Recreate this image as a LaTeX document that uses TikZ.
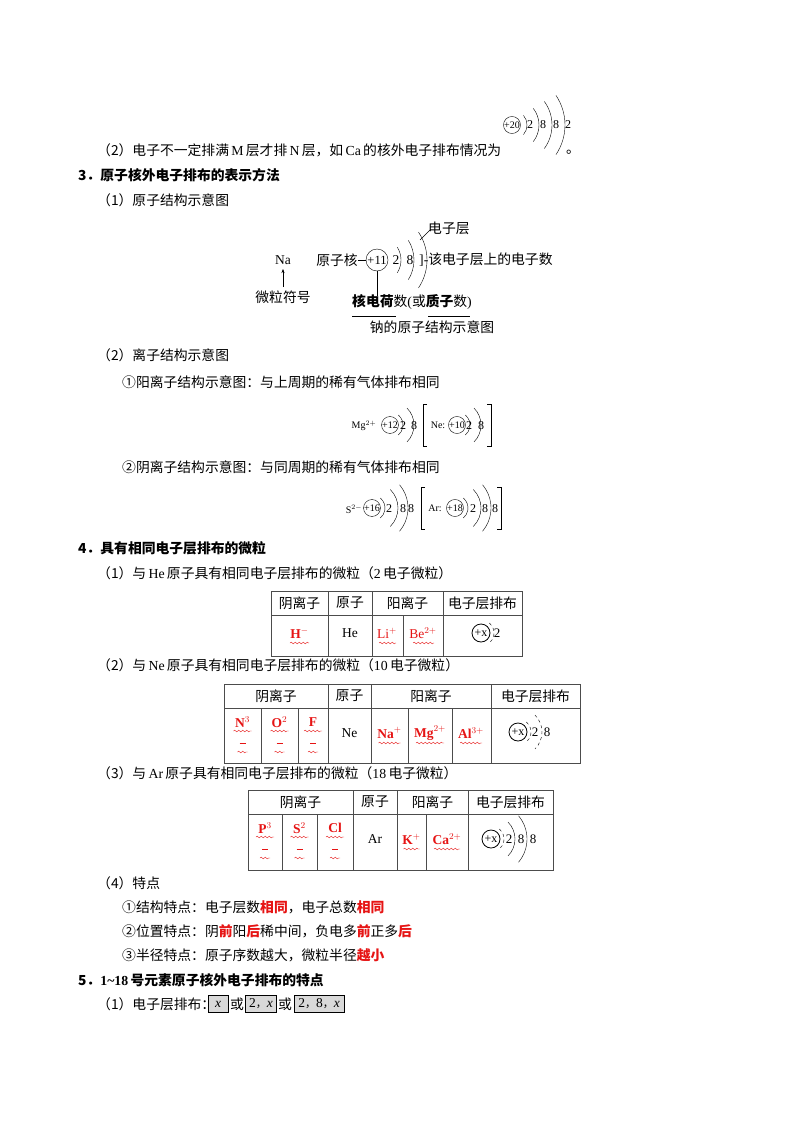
\documentclass[tikz,border=0pt]{standalone}
\usepackage{fontspec}
\setmainfont{Noto Sans CJK SC}
\newfontfamily\lt{Liberation Serif}
\usetikzlibrary{decorations.pathmorphing,arrows.meta}
\definecolor{rd}{RGB}{230,20,20}
\newcommand\shl[5]{\draw[#5] (#1,#2) ++(-#4:#3) arc[start angle=-#4,end angle=#4,radius=#3];}
\newcommand\rb[1]{\textcolor{rd}{\bfseries #1}}
\newcommand\la[1]{{\lt #1}}
\newcommand\zc{{\normalfont\fontsize{11}{12}\selectfont ，}}
\begin{document}
\begin{tikzpicture}[x=1pt,y=-1pt,
  t/.style={anchor=west,inner sep=0pt,font=\fontsize{13.8}{15}\selectfont},
  c/.style={inner sep=0pt,font=\fontsize{13.8}{15}\selectfont},
  s/.style={inner sep=0pt,font=\lt\fontsize{12}{13}\selectfont},
  nuc/.style={draw,circle,inner sep=0pt,minimum size=17pt,font=\lt\fontsize{10}{11}\selectfont},
  tb/.style={draw=black!70,line width=0.7pt},
  red/.style={c,text=rd,font=\lt\bfseries\fontsize{13.5}{15}\selectfont},
  wav/.style={draw=rd,decorate,decoration={snake,amplitude=0.8pt,segment length=4pt},line width=0.4pt}]
\useasboundingbox[fill=white] (0,0) rectangle (800,1132);
% --- Ca line
\node[t] (l1) at (97,150) {（2）电子不一定排满\,\la{M}\,层才排\,\la{N}\,层，如\,\la{Ca}\,的核外电子排布情况为};
\node[nuc] (ca) at (512,125) {+20};
\foreach \x/\v in {530/2,543/8,556/8,568/2}{\node[s] at (\x,125) {\v};}
\shl{512}{125}{15}{40}{}\shl{512}{125}{27}{38}{}\shl{512}{125}{40}{36}{}\shl{512}{125}{53}{34}{}
\node[t] at (566,152) {。};
\node[t] (h3) at (78,175) {\bfseries 3．原子核外电子排布的表示方法};
\node[t] at (97,200) {（1）原子结构示意图};
% --- Na diagram
\node[c,font=\lt\fontsize{13.5}{15}\selectfont] (na) at (283,260) {Na};
\node[c] (ns) at (283,297) {微粒符号};
\draw[-{Stealth[length=4pt]}] (283,287) -- (283,269);
\node[c] (yzh) at (337,260) {原子核};
\node[draw,circle,inner sep=0pt,minimum size=22pt,font=\lt\fontsize{12.5}{13}\selectfont] (nana) at (377,260) {+11};
\draw (yzh.east) -- (nana.west);
\node[s,font=\lt\fontsize{13.5}{15}\selectfont] at (396,260) {2};
\node[s,font=\lt\fontsize{13.5}{15}\selectfont] at (410,260) {8};
\shl{377}{260}{24}{32}{}\shl{377}{260}{37}{32}{}\shl{377}{260}{50}{34}{}
\node[t] (ds) at (419,260) {\la{]-}该电子层上的电子数};
\node[t] (dzc) at (428,228) {电子层};
\draw (420,240) -- (430,230);
\node[c] (hd) at (412,302) {\bfseries 核电荷\mdseries 数\la{(}或\bfseries 质子\mdseries 数\la{)}};
\draw (nana.south) -- (377,296);
\draw (352,316) -- (396,316) (428,316) -- (470,316);
\node[c] (cap) at (432,327) {钠的原子结构示意图};
% --- ions
\node[t] at (97,355) {（2）离子结构示意图};
\node[t] at (122,382) {①阳离子结构示意图：与上周期的稀有气体排布相同};
\node[s,font=\lt\fontsize{10}{11}\selectfont] at (364,426) {Mg$^{2+}$};
\node[nuc,minimum size=16pt,font=\lt\fontsize{10}{11}\selectfont] (mg) at (390,425) {+12};
\node[s] at (403,426) {2};\node[s] at (414,426) {8};
\shl{390}{425}{13}{50}{}\shl{390}{425}{24}{45}{}
\draw (427,404) -- (423,404) -- (423,446) -- (427,446);
\node[s,font=\lt\fontsize{10}{11}\selectfont] at (438,425) {Ne:};
\node[nuc,minimum size=16pt,font=\lt\fontsize{10}{11}\selectfont] (ne) at (457,425) {+10};
\node[s] at (469,426) {2};\node[s] at (481,426) {8};
\shl{457}{425}{13}{50}{}\shl{457}{425}{24}{45}{}
\draw (487,404) -- (491,404) -- (491,446) -- (487,446);
\node[t] at (122,467) {②阴离子结构示意图：与同周期的稀有气体排布相同};
\node[s,font=\lt\fontsize{10}{11}\selectfont] at (354,509) {S$^{2-}$};
\node[nuc,minimum size=16pt,font=\lt\fontsize{10}{11}\selectfont] (s2) at (372,508) {+16};
\node[s] at (389,509) {2};\node[s] at (403,509) {8};\node[s] at (411,509) {8};
\shl{372}{508}{13}{50}{}\shl{372}{508}{26}{45}{}\shl{372}{508}{36}{40}{}
\draw (425,487) -- (421,487) -- (421,529) -- (425,529);
\node[s,font=\lt\fontsize{10}{11}\selectfont] at (435,508) {Ar:};
\node[nuc,minimum size=16pt,font=\lt\fontsize{10}{11}\selectfont] (ar) at (455,508) {+18};
\node[s] at (473,509) {2};\node[s] at (485,509) {8};\node[s] at (495,509) {8};
\shl{455}{508}{13}{50}{}\shl{455}{508}{26}{45}{}\shl{455}{508}{36}{40}{}
\draw (497,487) -- (501,487) -- (501,529) -- (497,529);
% --- section 4
\node[t] at (78,548) {\bfseries 4．具有相同电子层排布的微粒};
\node[t] at (97,573) {（1）与\,\la{He}\,原子具有相同电子层排布的微粒（\la{2}\,电子微粒）};
\draw[tb] (271,591) rectangle (522,656);
\draw[tb] (271,615) -- (522,615);
\foreach \x in {328,372,443}{\draw[tb] (\x,591) -- (\x,656);}
\draw[tb] (403,615) -- (403,656);
\node[c] at (299.5,603) {阴离子};\node[c] at (350,603) {原子};\node[c] at (407.5,603) {阳离子};\node[c] at (482.5,603) {电子层排布};
\node[red] (hm) at (299.5,633) {H$^{-}$};\draw[wav] (290,643) -- (309,643);
\node[c,font=\lt\fontsize{13.5}{15}\selectfont] at (350,633) {He};
\node[red,font=\lt\fontsize{13.5}{15}\selectfont] at (387,633) {Li$^{+}$};\draw[wav] (379,643) -- (396,643);
\node[red,font=\lt\fontsize{13.5}{15}\selectfont] at (423,633) {Be$^{2+}$};\draw[wav] (413,643) -- (434,643);
\node[draw,circle,line width=0.8pt,inner sep=0pt,minimum size=18pt,font=\lt\fontsize{12}{13}\selectfont] (x1) at (481,633) {+x};
\node[s,font=\lt\fontsize{13}{14}\selectfont] at (497,633) {2};
\shl{481}{633}{13}{50}{dashed}
\node[t] at (97,665) {（2）与\,\la{Ne}\,原子具有相同电子层排布的微粒（\la{10}\,电子微粒）};
\draw[tb] (224,684) rectangle (580,763);
\draw[tb] (224,708) -- (580,708);
\foreach \x in {328,371,491}{\draw[tb] (\x,684) -- (\x,763);}
\foreach \x in {261,298,408,452}{\draw[tb] (\x,708) -- (\x,763);}
\node[c] at (276,696) {阴离子};\node[c] at (349.5,696) {原子};\node[c] at (431,696) {阳离子};\node[c] at (535.5,696) {电子层排布};
\foreach \x/\v in {242.5/N$^{3}$,279.5/O$^{2}$,313/F}{\node[red] at (\x,722) {\v};\draw[wav] (\x-9,731) -- (\x+9,731);\node[red] at (\x,743) {\rule{6pt}{1pt}};\draw[wav] (\x-5,752) -- (\x+5,752);}
\node[c,font=\lt\fontsize{13.5}{15}\selectfont] at (349.5,733) {Ne};
\foreach \x/\v/\w in {389.5/Na$^{+}$/11,430/Mg$^{2+}$/14,471/Al$^{3+}$/11}{\node[red] at (\x,733) {\v};\draw[wav] (\x-\w,743) -- (\x+\w,743);}
\node[draw,circle,line width=0.8pt,inner sep=0pt,minimum size=18pt,font=\lt\fontsize{12}{13}\selectfont] (x2) at (518,732) {+x};
\node[s,font=\lt\fontsize{13}{14}\selectfont] at (535,732) {2};\node[s,font=\lt\fontsize{13}{14}\selectfont] at (547,732) {8};
\shl{518}{732}{13}{50}{dashed}\shl{518}{732}{24}{45}{dashed}
\node[t] at (97,773) {（3）与\,\la{Ar}\,原子具有相同电子层排布的微粒（\la{18}\,电子微粒）};
\draw[tb] (248,790) rectangle (553,870);
\draw[tb] (248,814) -- (553,814);
\foreach \x in {353,397,468}{\draw[tb] (\x,790) -- (\x,870);}
\foreach \x in {282,317,426}{\draw[tb] (\x,814) -- (\x,870);}
\node[c] at (300.5,802) {阴离子};\node[c] at (375,802) {原子};\node[c] at (432.5,802) {阳离子};\node[c] at (510.5,802) {电子层排布};
\foreach \x/\v in {265/P$^{3}$,299.5/S$^{2}$,335/Cl}{\node[red] at (\x,828) {\v};\draw[wav] (\x-9,837) -- (\x+9,837);\node[red] at (\x,849) {\rule{6pt}{1pt}};\draw[wav] (\x-5,858) -- (\x+5,858);}
\node[c,font=\lt\fontsize{13.5}{15}\selectfont] at (375,839) {Ar};
\foreach \x/\v/\w in {411.5/K$^{+}$/8,447/Ca$^{2+}$/13}{\node[red] at (\x,839) {\v};\draw[wav] (\x-\w,849) -- (\x+\w,849);}
\node[draw,circle,line width=0.8pt,inner sep=0pt,minimum size=18pt,font=\lt\fontsize{12}{13}\selectfont] (x3) at (491,839) {+x};
\node[s,font=\lt\fontsize{13}{14}\selectfont] at (509,839) {2};\node[s,font=\lt\fontsize{13}{14}\selectfont] at (521,839) {8};\node[s,font=\lt\fontsize{13}{14}\selectfont] at (533,839) {8};
\shl{491}{839}{13}{50}{dashed}\shl{491}{839}{24}{45}{}\shl{491}{839}{36}{40}{}
% --- features
\node[t] at (97,883) {（4）特点};
\node[t] at (122,907) {①结构特点：电子层数\rb{相同}，电子总数\rb{相同}};
\node[t] at (122,931) {②位置特点：阴\rb{前}阳\rb{后}稀中间，负电多\rb{前}正多\rb{后}};
\node[t] at (122,955) {③半径特点：原子序数越大，微粒半径\rb{越小}};
\node[t] at (78,980) {\bfseries 5．\la{\bfseries 1\textasciitilde18}\,号元素原子核外电子排布的特点};
\node[t] (l5) at (97,1004) {（1）电子层排布：};
\tikzset{bx/.style={draw,fill=black!15,line width=0.7pt,inner sep=0pt,minimum height=17pt,font=\lt\fontsize{13.5}{15}\selectfont}}
\node[bx,minimum width=20pt] (b1) at (218,1004) {\itshape x};
\node[c] at (237,1004) {或};
\node[bx,minimum width=31pt] (b2) at (261,1004) {2\zc\itshape x};
\node[c] at (285,1004) {或};
\node[bx,minimum width=50pt] (b3) at (319,1004) {2\zc 8\zc\itshape x};
\end{tikzpicture}
\end{document}
